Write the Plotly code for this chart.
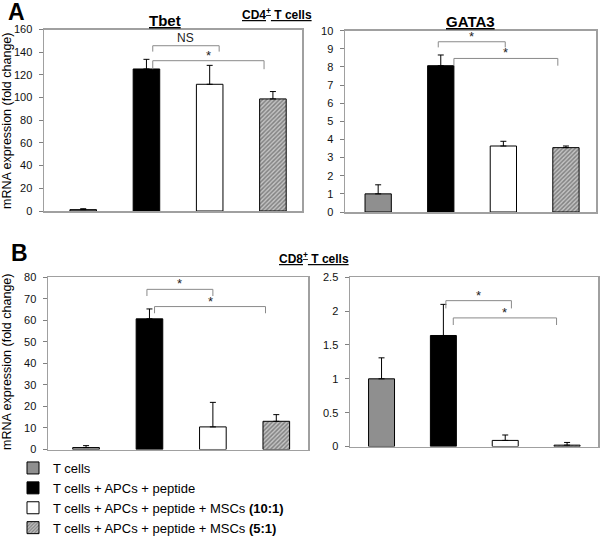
import plotly.graph_objects as go

W, H = 600, 536

# ---------------- data ----------------
conditions = [
    "T cells",
    "T cells + APCs + peptide",
    "T cells + APCs + peptide + MSCs <b>(10:1)</b>",
    "T cells + APCs + peptide + MSCs <b>(5:1)</b>",
]
positions = [0, 1, 2, 3]

tbet_mean = [1.2, 125.2, 111.7, 98.8]
tbet_err = [0.8, 8.5, 16.7, 6.5]

gata3_mean = [1.0, 8.07, 3.64, 3.55]
gata3_err = [0.5, 0.59, 0.26, 0.09]

cd8a_mean = [0.9, 60.7, 10.5, 13.1]
cd8a_err = [0.9, 4.6, 11.4, 3.1]

cd8b_mean = [1.0, 1.64, 0.09, 0.02]
cd8b_err = [0.31, 0.46, 0.08, 0.04]

# significance brackets: (x1, x2, y_top, y_leg, label)
tbet_brackets = [(1.1, 2.15, 145.7, 140.5, "NS"), (1.1, 2.86, 132.5, 125.0, "*")]
gata3_brackets = [(0.96, 2.03, 9.39, 9.08, "*"), (1.21, 2.87, 8.47, 8.07, "*")]
cd8a_brackets = [(0.96, 2.0, 74.4, 71.3, "*"), (1.08, 2.83, 66.4, 63.3, "*")]
cd8b_brackets = [(1.04, 2.1, 2.155, 2.04, "*"), (1.16, 2.83, 1.9, 1.795, "*")]

# ---------------- styling ----------------
FONT = "Arial, 'Liberation Sans', sans-serif"
fills = ["#8f8f8f", "#000000", "#ffffff", "#a8a8a8"]
patterns = [None, None, None, dict(shape="/", fgcolor="#404040", bgcolor="#c4c4c4", size=3, solidity=0.5)]


def px_x(p):
    return p / W


def px_y(p):
    return 1 - p / H


panels = [
    # (mean, err, brackets, xdomain px, ydomain px (top,bottom), yrange, dtick, xrange)
    (tbet_mean, tbet_err, tbet_brackets, (44, 302), (29.5, 211), [0, 160], 20, [-0.62, 3.46]),
    (gata3_mean, gata3_err, gata3_brackets, (345, 596), (30.7, 212), [0, 10], 1, [-0.53, 3.48]),
    (cd8a_mean, cd8a_err, cd8a_brackets, (48, 308), (277.3, 449.5), [0, 80], 10, [-0.6, 3.5]),
    (cd8b_mean, cd8b_err, cd8b_brackets, (350, 598), (277.3, 446.5), [0, 2.5], 0.5, [-0.51, 3.5]),
]

fig = go.Figure()
shapes = []
annotations = []
layout_axes = {}

for i, (mean, err, brackets, xd, yd, yr, dt, xr) in enumerate(panels):
    n = i + 1
    xa = "x" if n == 1 else f"x{n}"
    ya = "y" if n == 1 else f"y{n}"
    for c in range(4):
        marker = dict(color=fills[c], line=dict(color="#000000", width=1))
        if patterns[c] is not None:
            marker["pattern"] = patterns[c]
        fig.add_trace(go.Bar(
            x=[positions[c]], y=[mean[c]], width=0.42,
            marker=marker,
            error_y=dict(type="data", symmetric=False, array=[err[c]], arrayminus=[0],
                         color="#000000", thickness=1, width=3),
            name=conditions[c], showlegend=(n == 1), legendgroup=str(c),
            xaxis=xa, yaxis=ya, hoverinfo="skip",
        ))
    for (x1, x2, yt, yl, lab) in brackets:
        shapes.append(dict(type="path", xref=xa, yref=ya,
                           path=f"M {x1},{yl} L {x1},{yt} L {x2},{yt} L {x2},{yl}",
                           line=dict(color="#8a8a8a", width=1)))
        annotations.append(dict(xref=xa, yref=ya, x=(x1 + x2) / 2, y=yt, text=lab,
                                showarrow=False, yanchor="bottom",
                                yshift=(-4 if lab == "*" else -1),
                                font=dict(family=FONT, size=(13 if lab == "*" else 12), color="#222")))
    xkey = "xaxis" if n == 1 else f"xaxis{n}"
    ykey = "yaxis" if n == 1 else f"yaxis{n}"
    layout_axes[xkey] = dict(domain=[px_x(xd[0]), px_x(xd[1])], range=xr, anchor=ya,
                             showticklabels=False, showgrid=False, zeroline=False,
                             showline=True, mirror=True, linecolor="#a0a0a0", linewidth=1.5,
                             ticks="", fixedrange=True)
    layout_axes[ykey] = dict(domain=[px_y(yd[1]), px_y(yd[0])], range=yr, dtick=dt, anchor=xa,
                             showgrid=False, zeroline=False,
                             showline=True, mirror=True, linecolor="#a0a0a0", linewidth=1.5,
                             ticks="outside", ticklen=4, tickcolor="#808080",
                             ticklabelstandoff=4,
                             tickfont=dict(family=FONT, size=11, color="#111"))

# titles & labels (pixel-placed)
def ann(text, x, y, size, angle=0):
    annotations.append(dict(xref="paper", yref="paper", x=px_x(x), y=px_y(y), text=text,
                            showarrow=False, xanchor="center", yanchor="middle", textangle=angle,
                            font=dict(family=FONT, size=size, color="#000")))

ann("<b>A</b>", 16, 12, 23)
ann("<b>B</b>", 19, 253, 23)
ann("<u><b>CD4<sup>+</sup> T cells</b></u>", 277, 14, 12)
ann("<u><b>CD8<sup>+</sup> T cells</b></u>", 314, 258, 12)
ann("<u><b>Tbet</b></u>", 165, 20, 15)
ann("<u><b>GATA3</b></u>", 470, 21, 15)
ann("mRNA expression (fold change)", 7, 121, 12.5, angle=-90)
ann("mRNA expression (fold change)", 7, 362, 12.5, angle=-90)

fig.update_layout(
    width=W, height=H,
    margin=dict(l=0, r=0, t=0, b=0, autoexpand=False),
    paper_bgcolor="white", plot_bgcolor="white",
    barmode="overlay",
    shapes=shapes, annotations=annotations,
    showlegend=True,
    legend=dict(x=px_x(13), y=px_y(543), xanchor="left", yanchor="bottom",
                font=dict(family=FONT, size=13, color="#000"),
                bgcolor="rgba(0,0,0,0)", tracegroupgap=0, traceorder="normal"),
    **layout_axes,
)

fig.write_html("out.html", config={"displayModeBar": False, "staticPlot": True},
               post_script="document.body.style.margin='0px';")
